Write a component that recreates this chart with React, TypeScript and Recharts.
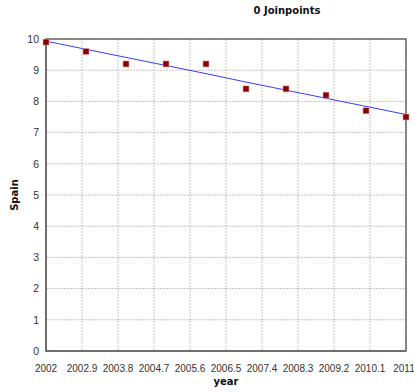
import {
  ComposedChart,
  Line,
  Scatter,
  XAxis,
  YAxis,
  CartesianGrid,
  ReferenceArea,
} from "recharts";

// observed rates by year
const years = [2002, 2003, 2004, 2005, 2006, 2007, 2008, 2009, 2010, 2011];
const observed = [9.9, 9.6, 9.2, 9.2, 9.2, 8.4, 8.4, 8.2, 7.7, 7.5];
// fitted trend (0 joinpoints)
const fitted = [9.93, 9.67, 9.41, 9.15, 8.89, 8.62, 8.36, 8.1, 7.84, 7.58];

const xTicks = [2002, 2002.9, 2003.8, 2004.7, 2005.6, 2006.5, 2007.4, 2008.3, 2009.2, 2010.1, 2011];
const yTicks = [0, 1, 2, 3, 4, 5, 6, 7, 8, 9, 10];

const chartData = years.map((y, i) => ({
  year: y,
  observed: observed[i],
  fitted: fitted[i],
}));

const yTickFont = { fontSize: 10.5, fill: "#333", fontFamily: "Liberation Sans, Arial, sans-serif" };
const labelStyle = { fontSize: 10, fontWeight: "bold", fill: "#111", fontFamily: "DejaVu Sans, Verdana, sans-serif" };

// x tick, kept inside the right edge of the picture
const XTick = (props: any) => {
  const { x, y, payload } = props;
  const cx = Math.min(x, 404);
  return (
    <text
      x={cx}
      y={y + 10}
      textAnchor="middle"
      fontSize={10}
      fill="#333"
      fontFamily="Liberation Sans Narrow, Arial Narrow, sans-serif"
    >
      {payload.value}
    </text>
  );
};

// small dark red square marker
const SquareDot = (props: any) => {
  const { cx, cy } = props;
  if (cx == null || cy == null) return null;
  return <rect x={cx - 3} y={cy - 3} width={6} height={6} fill="#8b0000" stroke="#e8a0a0" strokeWidth={0.6} />;
};

export default function App() {
  return (
    <div style={{ position: "absolute", left: 0, top: 0, width: 414, height: 392, background: "#fff" }}>
      <ComposedChart
        width={414}
        height={392}
        data={chartData}
        margin={{ top: 39, right: 8, left: 0, bottom: 0 }}
      >
        <text x={287} y={14} textAnchor="middle" style={labelStyle}>
          0 Joinpoints
        </text>
        <CartesianGrid stroke="#c4c4c4" strokeDasharray="2 1" />
        <XAxis
          dataKey="year"
          type="number"
          domain={[2002, 2011]}
          ticks={xTicks}
          interval={0}
          tick={<XTick />}
          tickLine={false}
          axisLine={{ stroke: "#666", strokeWidth: 1.5 }}
          tickMargin={5}
          height={41}
          label={{ value: "year", position: "insideBottom", offset: 7, style: labelStyle }}
        />
        <YAxis
          type="number"
          domain={[0, 10]}
          ticks={yTicks}
          interval={0}
          tick={yTickFont}
          tickLine={false}
          axisLine={{ stroke: "#666", strokeWidth: 1.5 }}
          tickMargin={1}
          width={46}
          label={{
            value: "Spain",
            angle: -90,
            position: "insideLeft",
            offset: 14,
            style: { ...labelStyle, textAnchor: "middle" },
          }}
        />
        <ReferenceArea x1={2002} x2={2011} y1={0} y2={10} fill="none" stroke="#666" strokeWidth={1.5} />
        <Line
          dataKey="fitted"
          type="linear"
          stroke="#3a3aff"
          strokeWidth={1}
          dot={false}
          activeDot={false}
          isAnimationActive={false}
        />
        <Scatter dataKey="observed" shape={SquareDot} isAnimationActive={false} />
      </ComposedChart>
    </div>
  );
}
